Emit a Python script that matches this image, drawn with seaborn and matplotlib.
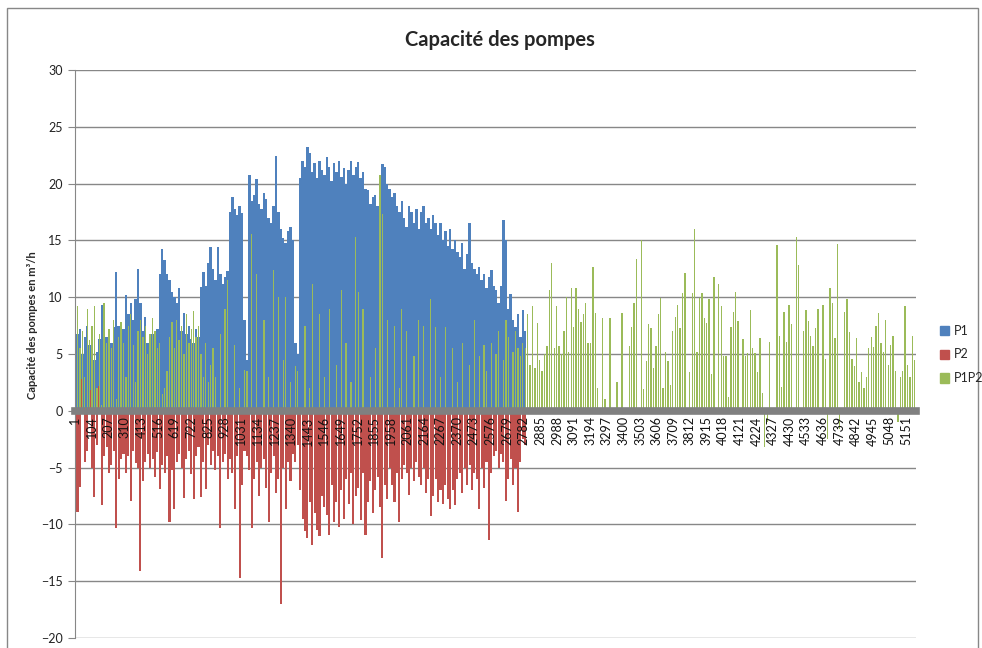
import numpy as np
import pandas as pd
import matplotlib
matplotlib.use('Agg')
import matplotlib.pyplot as plt
import seaborn as sns
from matplotlib.patches import Patch, Rectangle

sns.set_style('white')
plt.rcParams['font.family'] = ['Lato', 'DejaVu Sans']

BLUE = '#4F81BD'
RED = '#C0504D'
GREEN = '#9BBB59'
GREY = '#878787'

# the sheet has ~5213 rows; the picture is read at one value per 15 rows
n_rows = 5213
step = 15
rows = np.arange(1, n_rows, step)

# P1 (read up to row ~2790, no bars after that)
p1 = [5.5, 6.8, 7.2, 5.0, 6.5, 7.5, 5.8, 6.0, 4.5, 5.2, 6.3,
      9.3, 8.8, 6.5, 7.0, 6.0, 7.4,
      12.2, 7.5,
      6.8, 7.2, 10.2, 8.5, 9.5, 8.0, 9.8,
      12.5,
      9.5, 7.0, 8.3, 6.0, 5.5, 6.8, 5.8,
      7.2, 12.0, 14.2, 13.3, 12.0, 11.5, 10.5,
      10.0, 9.5, 10.8,
      7.0, 8.6, 6.8, 7.5, 6.3, 6.0,
      7.2, 6.5,
      10.9, 12.2, 11.0, 13.0, 14.4, 12.5,
      11.5, 14.4, 12.0, 11.2,
      11.8, 12.3,
      17.5, 18.8, 17.8, 17.2, 18.0, 17.4,
      8.0, 4.5,
      20.8, 18.5, 19.0, 20.4, 18.2, 17.8, 19.2, 18.6,
      17.0, 16.5, 18.0, 22.4, 17.5,
      16.0, 15.2, 14.8, 15.8, 16.2, 15.0,
      6.0, 5.0,
      20.5, 22.0, 21.5, 23.2, 22.7, 21.0, 21.8, 20.5, 22.0, 21.2, 20.8, 22.3,
      21.5, 20.2, 21.8, 21.0, 22.0, 20.6, 21.4, 20.0, 21.2, 22.0, 20.8, 21.5,
      21.9, 20.5, 21.0, 19.5,
      19.4, 18.2, 18.8, 19.0, 18.0, 19.6,
      21.7, 21.5, 20.0, 19.5, 18.8, 19.2, 18.0, 17.5,
      18.5, 17.0, 16.2, 18.0, 17.5, 16.5, 17.8, 16.0,
      17.5, 18.0, 16.5, 17.0, 16.0, 17.2, 16.5, 15.5,
      16.5, 15.0, 15.8, 14.5, 16.0, 14.2, 15.0, 14.0,
      13.5, 14.8, 12.5, 13.8, 16.5, 13.0, 12.5, 12.0,
      12.7, 11.5, 12.0, 10.8, 11.8, 12.4, 11.0, 10.6,
      9.5, 11.0, 16.8, 15.0,
      9.0, 10.3, 8.0, 7.4,
      8.5, 6.5, 8.9, 7.0]

# P2
p2 = [2.5, -8.9, -6.7, 2.8, -4.5, -3.5, 1.8, -5.0, -7.6, -3.0, 2.2,
      -8.3, -4.0, -3.2, -5.5, -4.8, -3.5, -10.3, -6.0, -4.2, -3.8,
      -5.5, -4.0, -7.9, -3.5, -4.6, -5.0, -14.1, -6.2, -4.5, -3.8,
      -5.0, -4.2, -5.8, -3.6, -6.9, -4.8, -5.5, -4.0, -9.8, -5.2,
      -8.6, -4.5, -3.8, -5.0, -7.7, -4.2, -3.5, -5.6, -7.8, -4.0,
      -3.2, -7.6, -4.5, -6.9, -3.0, -4.8, -3.5, -5.2, -4.0, -10.3,
      -4.5, -3.8, -6.0, -4.2, -5.5, -8.6, -4.0, -14.7, -6.5, -3.5,
      -4.0, -5.2, -10.3, -6.0, -4.5, -7.5, -5.0, -4.2, -6.8, -9.8,
      -5.5, -4.0, -7.2, -6.0, -17.0, -5.0, -8.6, -4.5, -6.2, -3.8,
      -4.5, -3.0, -7.0, -9.5, -10.6, -11.2, -8.0, -11.8, -9.0, -10.5,
      -11.0, -7.5, -8.5, -9.2, -10.9, -6.5, -9.8, -8.0, -10.2, -7.0,
      -9.5, -6.0, -8.2, -5.5, -10.0, -7.5, -6.8, -9.6, -5.5, -10.9,
      -8.0, -6.2, -9.0, -7.0, -5.8, -8.5, -13.0, -6.5, -7.8, -5.0,
      -6.5, -8.0, -5.5, -9.8, -6.0, -4.8, -5.5, -7.4, -5.0, -6.2,
      -4.5, -5.8, -6.5, -5.0, -7.2, -6.0, -9.3, -7.5, -6.0, -8.0,
      -7.0, -8.2, -6.5, -7.8, -8.6, -7.0, -8.3, -6.0, -5.5, -7.2,
      -5.0, -6.5, -4.8, -7.0, -5.5, -6.0, -8.6, -5.0, -6.8, -4.5,
      -11.4, -5.5, -4.0, -3.5, -5.0, -3.8, -4.5, -7.9, -6.0, -4.2,
      -6.5, -5.0, -8.9, -4.5, -2.5, -3.0]

# P1P2
p1p2 = [6.5, 9.2, 5.5, 7.0, 3.0, 9.0, 6.2, 7.5, 9.2, 2.0, 6.8,
        0.5, 9.5, 6.0, 7.2, 5.5, 8.0, 1.0, 6.5, 7.8, 6.0,
        3.0, 7.5, 8.5, 5.8, 2.5, 7.0, 8.0, 6.5, 7.5, 5.0,
        6.8, 8.2, 7.0, 5.5, 6.0, 1.5, 2.0, 3.5, 6.5, 7.8,
        5.5, 8.0, 6.2, 7.5, 5.0, 8.5, 6.0, 7.2, 8.8, 6.5,
        7.5, 5.0, 3.0, 6.0, 2.5, 4.0, 5.5, 3.0,
        0, 6.8, 0, 9.0, 11.5, 0, 0, 5.8, 0, 2.0,
        0, 3.6, 3.5, 0, 15.6, 0, 12.0, 0, 0, 8.0,
        0, 3.0, 0, 12.4, 0, 10.0, 0, 4.5, 10.0, 0,
        2.5, 0, 3.9, 3.5, 0, 0, 7.5, 0, 2.0, 11.2,
        0, 0, 8.5, 0, 3.0, 0, 9.0, 0, 0, 4.0,
        0, 10.6, 0, 6.0, 0, 2.5, 0, 15.3, 10.5, 0,
        9.0, 0, 0, 3.0, 0, 5.5, 0, 20.8, 17.3, 0,
        8.0, 0, 0, 7.5, 0, 2.0, 9.0, 0, 7.0, 0,
        0, 4.8, 0, 8.0, 0, 7.5, 0, 0, 9.8, 0,
        7.4, 0, 3.0, 0, 7.4, 0, 0, 5.5, 0, 2.5,
        0, 6.0, 0, 0, 4.0, 0, 8.0, 0, 4.8, 0,
        5.8, 3.5, 0, 6.0, 0, 5.0, 7.0, 0, 4.5, 8.0,
        6.5, 0, 5.2, 7.0, 5.5, 4.8, 6.0, 5.5,
        8.5, 4.0, 9.2, 3.8, 7.7, 4.5, 3.5, 5.0, 5.7, 10.6,
        13.0, 5.5, 9.2, 5.7, 5.0, 7.0, 10.0, 5.2, 10.8, 7.4,
        10.8, 9.0, 7.8, 8.5, 9.5, 6.0, 6.0, 12.7, 8.6, 2.0,
        0, 8.2, 1.0, 0, 8.2, 0, 0, 2.5, 0, 8.6,
        0, 0, 5.7, 7.4, 9.5, 13.4, 0, 15.0, 1.9, 4.4,
        7.6, 7.3, 3.8, 5.7, 8.5, 9.9, 2.0, 5.2, 4.4, 2.3,
        7.0, 8.3, 9.3, 7.3, 10.4, 12.1, 0, 3.4, 10.4, 16.0,
        5.2, 9.9, 10.4, 8.2, 7.7, 9.8, 3.2, 11.8, 0, 11.2,
        9.2, 4.8, 4.8, 1.2, 7.4, 8.7, 10.5, 7.9, 0, 6.3,
        4.8, 5.1, 8.9, 5.5, 5.1, 3.4, 6.4, 1.6, -3.2, -1.0,
        6.1, 0, 0, 14.6, 6.6, 2.1, 8.7, 6.1, 9.3, 7.6,
        0, 15.3, 12.8, 0, 7.0, 8.9, 7.9, 6.6, 5.7, 7.3,
        9.0, 0, 9.3, 4.6, -2.5, 10.8, 9.5, 6.4, 14.7, -1.6,
        0, 8.7, 9.8, 6.9, 4.6, 3.9, 6.4, 2.5, 3.4, 2.0,
        3.0, 5.5, 6.5, 5.6, 7.5, 8.6, 6.0, 5.2, 8.0, 4.0,
        5.8, 6.6, 3.5, -1.0, 3.0, 3.5, 9.2, 4.0, 3.0, 6.6,
        4.5]

tick_rows = [1, 104, 207, 310, 413, 516, 619, 722, 825, 928, 1031, 1134,
             1237, 1340, 1443, 1546, 1649, 1752, 1855, 1958, 2061, 2164,
             2267, 2370, 2473, 2576, 2679, 2782, 2885, 2988, 3091, 3194,
             3297, 3400, 3503, 3606, 3709, 3812, 3915, 4018, 4121, 4224,
             4327, 4430, 4533, 4636, 4739, 4842, 4945, 5048, 5151]

# (name, values, colour, bar width as share of one step)
series = [('P1', p1, BLUE, 1.0), ('P2', p2, RED, 0.85),
          ('P1P2', p1p2, GREEN, 0.55)]

fig, ax = plt.subplots(figsize=(9.82, 6.48), dpi=100)
fig.subplots_adjust(left=0.0764, right=0.9328, top=0.892, bottom=0.0154)

for name, vals, col, w in series:
    df = pd.DataFrame({'row': rows[:len(vals)], 'val': vals})
    sns.barplot(data=df, x='row', y='val', native_scale=True, orient='v',
                color=col, saturation=1, width=w, errorbar=None,
                linewidth=0, ax=ax)

ax.set_xlim(0.5, n_rows + 0.5)
ax.set_ylim(-20, 30)
ax.set_yticks(range(-20, 31, 5))
ax.set_xticks(tick_rows)
ax.set_xticklabels([str(t) for t in tick_rows])
ax.set_xlabel('')
ax.set_ylabel('')

ax.set_axisbelow(True)
ax.yaxis.grid(True, color=GREY, lw=1)
ax.xaxis.grid(False)
ax.xaxis.set_zorder(5)

for s in ['top', 'right']:
    ax.spines[s].set_visible(False)
ax.spines['left'].set_color(GREY)
ax.spines['bottom'].set_position(('data', 0))
ax.spines['bottom'].set_color('#808080')
ax.spines['bottom'].set_linewidth(5.5)
ax.spines['bottom'].set_zorder(4)

ax.tick_params(axis='x', bottom=False, length=0, pad=4, labelsize=9,
               labelrotation=90, labelcolor='#111111')
ax.tick_params(axis='y', left=True, length=5, color=GREY, direction='out',
               labelsize=9, pad=4, labelcolor='#222222')

fig.text(0.509, 1 - 40 / 648, 'Capacité des pompes', fontsize=14.5,
         fontweight='bold', ha='center', va='center')
fig.text(33 / 982, 1 - 325 / 648, 'Capacité des pompes en m³/h', fontsize=8,
         fontweight='bold', rotation=90, ha='center', va='center')

handles = [Patch(color=c) for _, _, c, _ in series]
fig.legend(handles, [n for n, _, _, _ in series], loc='center left',
           bbox_to_anchor=(0.952, 0.453), frameon=False, fontsize=9,
           handlelength=0.75, handleheight=0.75, handletextpad=0.4,
           labelspacing=0.95, borderaxespad=0)

fig.patches.append(Rectangle((7 / 982, -0.02), 971 / 982, 1.0077,
                             transform=fig.transFigure, fill=False,
                             ec=GREY, lw=1))

fig.savefig('out.png', dpi=100)
